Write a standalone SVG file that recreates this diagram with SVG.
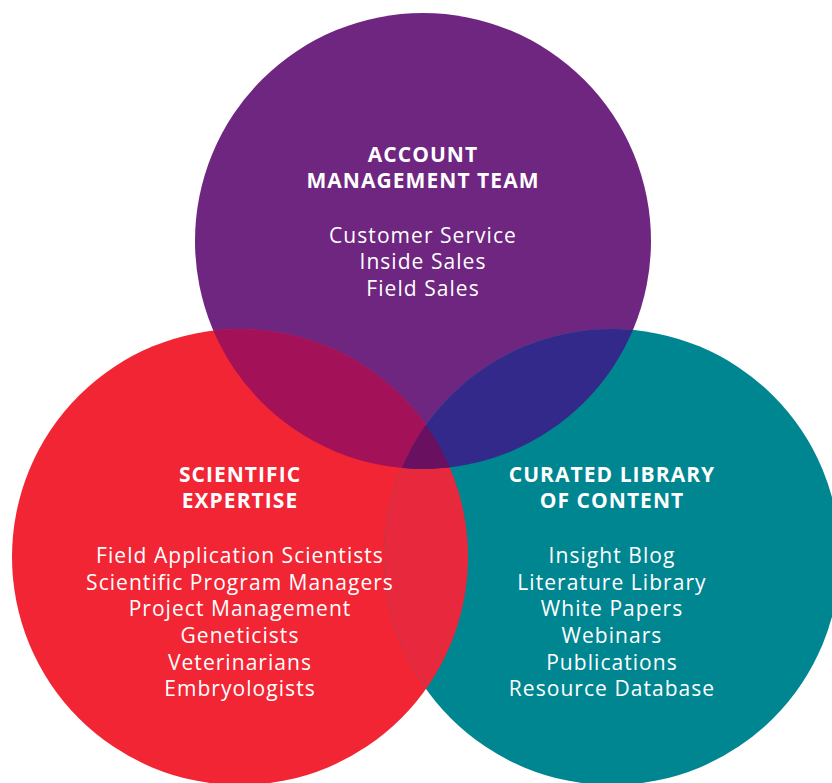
<svg xmlns="http://www.w3.org/2000/svg" width="832" height="783" viewBox="0 0 832 783">
<style>
.t{font-family:"Open Sans","Liberation Sans",sans-serif;fill:#fff;text-anchor:middle}
.h{font-size:21px;font-weight:700;letter-spacing:1.05px}
.i{font-size:21px;font-weight:400;letter-spacing:1.05px}
</style>
<defs>
<clipPath id="cP"><circle cx="423" cy="241" r="228"/></clipPath>
<clipPath id="cT"><circle cx="612" cy="557" r="228"/></clipPath>
</defs>
<rect width="832" height="783" fill="#fff"/>
<g id="circles">
<circle id="purple" cx="423" cy="241" r="228" fill="#6e2680"/>
<circle id="red" cx="240" cy="557" r="228" fill="#f22535"/>
<circle id="teal" cx="612" cy="557" r="228" fill="#008691"/>
<circle cx="240" cy="557" r="228" fill="#e8283c" clip-path="url(#cT)"/>
<circle cx="240" cy="557" r="228" fill="#a31158" clip-path="url(#cP)"/>
<circle cx="612" cy="557" r="228" fill="#33298a" clip-path="url(#cP)"/>
<g clip-path="url(#cP)"><circle cx="240" cy="557" r="228" fill="#6a1060" clip-path="url(#cT)"/></g>
</g>
<g id="account" class="t">
<text class="h" x="423" y="162">ACCOUNT</text>
<text class="h" x="423" y="188">MANAGEMENT TEAM</text>
<text class="i" x="423" y="243">Customer Service</text>
<text class="i" x="423" y="269">Inside Sales</text>
<text class="i" x="423" y="296">Field Sales</text>
</g>
<g id="scientific" class="t">
<text class="h" x="240" y="482">SCIENTIFIC</text>
<text class="h" x="240" y="508">EXPERTISE</text>
<text class="i" x="240" y="563">Field Application Scientists</text>
<text class="i" x="240" y="590">Scientific Program Managers</text>
<text class="i" x="240" y="616">Project Management</text>
<text class="i" x="240" y="643">Geneticists</text>
<text class="i" x="240" y="670">Veterinarians</text>
<text class="i" x="240" y="696">Embryologists</text>
</g>
<g id="library" class="t">
<text class="h" x="612" y="482">CURATED LIBRARY</text>
<text class="h" x="612" y="508">OF CONTENT</text>
<text class="i" x="612" y="563">Insight Blog</text>
<text class="i" x="612" y="590">Literature Library</text>
<text class="i" x="612" y="616">White Papers</text>
<text class="i" x="612" y="643">Webinars</text>
<text class="i" x="612" y="670">Publications</text>
<text class="i" x="612" y="696">Resource Database</text>
</g>
</svg>
